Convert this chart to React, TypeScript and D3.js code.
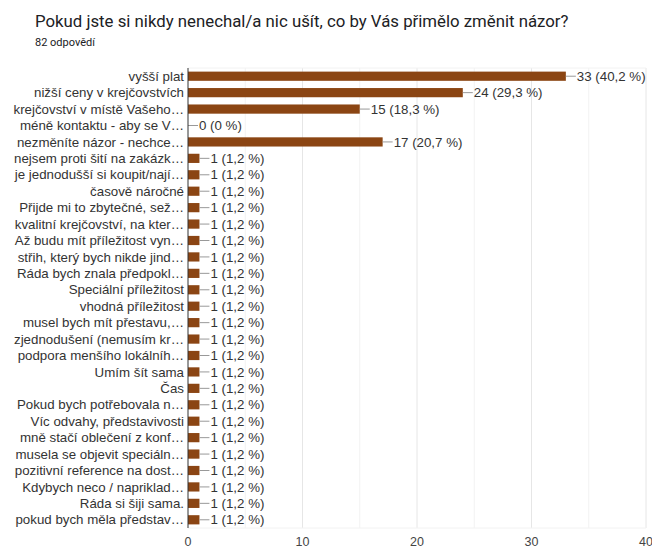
import React from "react";
import * as d3 from "d3";

const categories: string[] = [
  "vyšší plat",
  "nižší ceny v krejčovstvích",
  "krejčovství v místě Vašeho…",
  "méně kontaktu - aby se V…",
  "nezměníte názor - nechce…",
  "nejsem proti šití na zakázk…",
  "je jednodušší si koupit/nají…",
  "časově náročné",
  "Přijde mi to zbytečné, sež…",
  "kvalitní krejčovství, na kter…",
  "Až budu mít příležitost vyn…",
  "střih, který bych nikde jind…",
  "Ráda bych znala předpokl…",
  "Speciální příležitost",
  "vhodná příležitost",
  "musel bych mít přestavu,…",
  "zjednodušení (nemusím kr…",
  "podpora menšího lokálníh…",
  "Umím šít sama",
  "Čas",
  "Pokud bych potřebovala n…",
  "Víc odvahy, představivosti",
  "mně stačí oblečení z konf…",
  "musela se objevit speciáln…",
  "pozitivní reference na dost…",
  "Kdybych neco / napriklad…",
  "Ráda si šiji sama.",
  "pokud bych měla představ…",
];

const values: number[] = [33, 24, 15, 0, 17, 1, 1, 1, 1, 1, 1, 1, 1, 1, 1, 1, 1, 1, 1, 1, 1, 1, 1, 1, 1, 1, 1, 1];
const percents: string[] = [
  "40,2", "29,3", "18,3", "0", "20,7",
  "1,2", "1,2", "1,2", "1,2", "1,2", "1,2", "1,2", "1,2", "1,2", "1,2", "1,2", "1,2", "1,2",
  "1,2", "1,2", "1,2", "1,2", "1,2", "1,2", "1,2", "1,2", "1,2", "1,2",
];
const xTicks: number[] = [0, 10, 20, 30, 40];
const minorTicks: number[] = [5, 15, 25, 35];

const title = "Pokud jste si nikdy nenechal/a nic ušít, co by Vás přimělo změnit názor?";
const subtitle = "82 odpovědí";

export default function App() {
  const W = 652;
  const H = 550;
  const left = 188;
  const right = 646;
  const top = 68;
  const bottom = 528;
  const font = "Roboto, Arial, sans-serif";
  const chartFont = "Arial, 'Liberation Sans', sans-serif";

  const x = d3.scaleLinear().domain([0, 40]).range([left, right]);
  const y = d3
    .scaleBand<string>()
    .domain(categories.map((c, i) => String(i)))
    .range([top, bottom])
    .paddingInner(0.44)
    .paddingOuter(0.22);

  const bh = y.bandwidth();

  return (
    <svg
      width={W}
      height={H}
      style={{ position: "absolute", left: 0, top: 0, background: "#fff" }}
      fontFamily={font}
    >
      <rect x={0} y={0} width={W} height={H} fill="#fff" />
      <text x={35} y={27} fontSize={16.8} fill="#202124">
        {title}
      </text>
      <text x={35} y={46} fontSize={11} fill="#202124">
        {subtitle}
      </text>

      <g fontFamily={chartFont}>
        {minorTicks.map((t) => (
          <line key={"m" + t} x1={x(t)} x2={x(t)} y1={top} y2={bottom} stroke="#f2f2f2" strokeWidth={1} />
        ))}
        {xTicks.slice(1).map((t) => (
          <line key={"g" + t} x1={x(t)} x2={x(t)} y1={top} y2={bottom} stroke="#e6e6e6" strokeWidth={1} />
        ))}
        <line x1={left} x2={right} y1={top} y2={top} stroke="#f2f2f2" />
        <line x1={left} x2={right} y1={bottom} y2={bottom} stroke="#f2f2f2" />

        {categories.map((c, i) => {
          const yy = y(String(i))!;
          const cy = yy + bh / 2;
          const v = values[i];
          const xe = x(v);
          return (
            <g key={i}>
              <rect x={left} y={yy} width={xe - left} height={bh} fill="#8b4513" />
              <line x1={xe} x2={xe + 10} y1={cy} y2={cy} stroke="#999" strokeWidth={1} />
              <text x={xe + 11} y={cy} dy="0.35em" fontSize={13.3} fill="#333">
                {`${v} (${percents[i]} %)`}
              </text>
              <text x={left - 4} y={cy} dy="0.35em" fontSize={13.3} fill="#333" textAnchor="end">
                {c}
              </text>
            </g>
          );
        })}

        <line x1={left} x2={left} y1={top} y2={bottom} stroke="#333" strokeWidth={1} />

        {xTicks.map((t) => (
          <text key={"t" + t} x={x(t)} y={546} fontSize={12.5} fill="#444" textAnchor="middle">
            {t}
          </text>
        ))}
      </g>
    </svg>
  );
}
